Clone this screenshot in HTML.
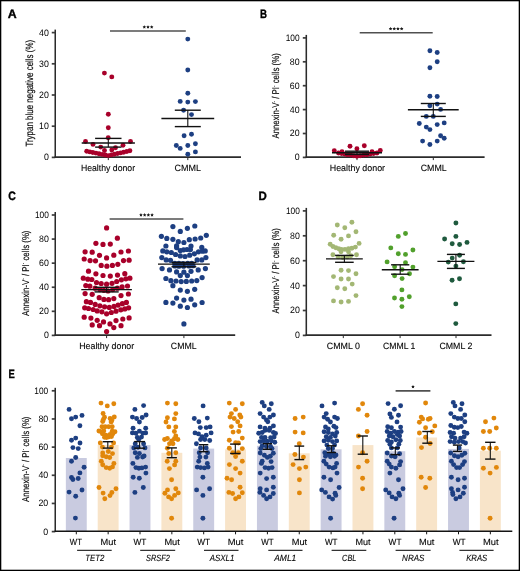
<!DOCTYPE html>
<html><head><meta charset="utf-8"><title>Figure</title>
<style>
html,body{margin:0;padding:0;background:#fff;}
body{width:520px;height:571px;overflow:hidden;}
svg{display:block;font-family:"Liberation Sans",sans-serif;will-change:transform;text-rendering:geometricPrecision;}
</style></head>
<body>
<svg width="520" height="571" viewBox="0 0 520 571">
<rect x="0.5" y="0.5" width="519" height="570" fill="#fff" stroke="#000" stroke-width="1.6"/>
<text x="7.80" y="17.70" font-size="12.2" textLength="8.9" lengthAdjust="spacingAndGlyphs" font-weight="bold" fill="#000" stroke="#000" stroke-width="0.35">A</text>
<text x="260.00" y="17.80" font-size="12.2" textLength="7.0" lengthAdjust="spacingAndGlyphs" font-weight="bold" fill="#000" stroke="#000" stroke-width="0.35">B</text>
<text x="8.20" y="199.80" font-size="12.2" textLength="7.6" lengthAdjust="spacingAndGlyphs" font-weight="bold" fill="#000" stroke="#000" stroke-width="0.35">C</text>
<text x="258.50" y="199.60" font-size="12.2" textLength="8.3" lengthAdjust="spacingAndGlyphs" font-weight="bold" fill="#000" stroke="#000" stroke-width="0.35">D</text>
<text x="8.50" y="377.60" font-size="12.2" textLength="6.3" lengthAdjust="spacingAndGlyphs" font-weight="bold" fill="#000" stroke="#000" stroke-width="0.35">E</text>
<line x1="55.25" y1="29.60" x2="55.25" y2="157.70" stroke="#2b2b2b" stroke-width="1.55" stroke-linecap="butt"/>
<line x1="51.75" y1="157.40" x2="55.25" y2="157.40" stroke="#3c3c3c" stroke-width="1.7" stroke-linecap="butt"/>
<text x="48.80" y="160.30" font-size="9.4" text-anchor="end" textLength="4.9" lengthAdjust="spacingAndGlyphs" >0</text>
<line x1="51.75" y1="126.20" x2="55.25" y2="126.20" stroke="#3c3c3c" stroke-width="1.7" stroke-linecap="butt"/>
<text x="48.80" y="129.10" font-size="9.4" text-anchor="end" textLength="9.8" lengthAdjust="spacingAndGlyphs" >10</text>
<line x1="51.75" y1="95.00" x2="55.25" y2="95.00" stroke="#3c3c3c" stroke-width="1.7" stroke-linecap="butt"/>
<text x="48.80" y="97.90" font-size="9.4" text-anchor="end" textLength="9.8" lengthAdjust="spacingAndGlyphs" >20</text>
<line x1="51.75" y1="63.80" x2="55.25" y2="63.80" stroke="#3c3c3c" stroke-width="1.7" stroke-linecap="butt"/>
<text x="48.80" y="66.70" font-size="9.4" text-anchor="end" textLength="9.8" lengthAdjust="spacingAndGlyphs" >30</text>
<line x1="51.75" y1="32.60" x2="55.25" y2="32.60" stroke="#3c3c3c" stroke-width="1.7" stroke-linecap="butt"/>
<text x="48.80" y="35.50" font-size="9.4" text-anchor="end" textLength="9.8" lengthAdjust="spacingAndGlyphs" >40</text>
<line x1="54.55" y1="157.10" x2="241.00" y2="157.10" stroke="#2b2b2b" stroke-width="1.6" stroke-linecap="butt"/>
<line x1="108.30" y1="157.10" x2="108.30" y2="160.10" stroke="#2b2b2b" stroke-width="1.0" stroke-linecap="butt"/>
<line x1="187.80" y1="157.10" x2="187.80" y2="160.10" stroke="#2b2b2b" stroke-width="1.0" stroke-linecap="butt"/>
<text x="33.00" y="146.60" font-size="10.5" textLength="106.8" lengthAdjust="spacingAndGlyphs" transform="rotate(-90 33.00 146.60)" stroke="#1a1a1a" stroke-width="0.18">Trypan blue negative cells (%)</text>
<text x="108.00" y="171.00" font-size="9.1" text-anchor="middle" textLength="54.2" lengthAdjust="spacingAndGlyphs" stroke="#1a1a1a" stroke-width="0.12">Healthy donor</text>
<text x="187.80" y="171.00" font-size="9.1" text-anchor="middle" textLength="26.5" lengthAdjust="spacingAndGlyphs" stroke="#1a1a1a" stroke-width="0.12">CMML</text>
<line x1="110.00" y1="30.90" x2="185.80" y2="30.90" stroke="#505050" stroke-width="1.5" stroke-linecap="butt"/>
<polygon points="144.30,25.20 144.86,26.28 146.06,26.48 145.20,27.34 145.39,28.55 144.30,28.00 143.21,28.55 143.40,27.34 142.54,26.48 143.74,26.28" fill="#1a1a1a"/>
<polygon points="148.00,25.20 148.56,26.28 149.76,26.48 148.90,27.34 149.09,28.55 148.00,28.00 146.91,28.55 147.10,27.34 146.24,26.48 147.44,26.28" fill="#1a1a1a"/>
<polygon points="151.70,25.20 152.26,26.28 153.46,26.48 152.60,27.34 152.79,28.55 151.70,28.00 150.61,28.55 150.80,27.34 149.94,26.48 151.14,26.28" fill="#1a1a1a"/>
<g fill="#a8002a"><circle cx="104.4" cy="73.1" r="2.45"/><circle cx="111.8" cy="76.9" r="2.45"/><circle cx="108.3" cy="114.2" r="2.45"/><circle cx="108.3" cy="127.7" r="2.45"/><circle cx="108.2" cy="137.8" r="2.45"/><circle cx="85.5" cy="141.5" r="2.45"/><circle cx="130.5" cy="141.5" r="2.45"/><circle cx="93.0" cy="144.4" r="2.45"/><circle cx="123.0" cy="145.3" r="2.45"/><circle cx="100.7" cy="147.1" r="2.45"/><circle cx="115.5" cy="147.7" r="2.45"/><circle cx="104.5" cy="150.5" r="2.45"/><circle cx="111.8" cy="150.0" r="2.45"/><circle cx="86.7" cy="151.3" r="2.45"/><circle cx="89.8" cy="151.9" r="2.45"/><circle cx="92.8" cy="152.5" r="2.45"/><circle cx="95.9" cy="153.1" r="2.45"/><circle cx="99.0" cy="153.8" r="2.45"/><circle cx="102.1" cy="154.4" r="2.45"/><circle cx="105.1" cy="155.0" r="2.45"/><circle cx="108.2" cy="155.6" r="2.45"/><circle cx="111.3" cy="154.9" r="2.45"/><circle cx="114.4" cy="154.2" r="2.45"/><circle cx="117.5" cy="153.5" r="2.45"/><circle cx="120.6" cy="152.9" r="2.45"/><circle cx="123.7" cy="152.2" r="2.45"/><circle cx="126.8" cy="151.5" r="2.45"/><circle cx="129.9" cy="150.8" r="2.45"/></g>
<line x1="81.70" y1="143.00" x2="134.90" y2="143.00" stroke="#111" stroke-width="1.4" stroke-linecap="butt"/>
<line x1="95.10" y1="138.40" x2="121.50" y2="138.40" stroke="#111" stroke-width="1.4" stroke-linecap="butt"/>
<line x1="95.10" y1="147.10" x2="121.50" y2="147.10" stroke="#111" stroke-width="1.4" stroke-linecap="butt"/>
<line x1="108.30" y1="138.40" x2="108.30" y2="147.10" stroke="#111" stroke-width="1.1" stroke-linecap="butt"/>
<g fill="#1d3f82"><circle cx="187.8" cy="39.1" r="2.45"/><circle cx="187.8" cy="70.0" r="2.45"/><circle cx="187.8" cy="93.3" r="2.45"/><circle cx="180.2" cy="101.4" r="2.45"/><circle cx="187.8" cy="102.1" r="2.45"/><circle cx="195.4" cy="101.6" r="2.45"/><circle cx="183.6" cy="110.2" r="2.45"/><circle cx="191.5" cy="114.6" r="2.45"/><circle cx="184.1" cy="135.7" r="2.45"/><circle cx="191.5" cy="134.2" r="2.45"/><circle cx="176.3" cy="145.5" r="2.45"/><circle cx="180.2" cy="148.4" r="2.45"/><circle cx="187.8" cy="145.5" r="2.45"/><circle cx="195.4" cy="143.8" r="2.45"/><circle cx="195.4" cy="151.9" r="2.45"/><circle cx="187.8" cy="154.3" r="2.45"/></g>
<line x1="161.40" y1="118.50" x2="214.20" y2="118.50" stroke="#111" stroke-width="1.4" stroke-linecap="butt"/>
<line x1="174.80" y1="110.20" x2="200.80" y2="110.20" stroke="#111" stroke-width="1.4" stroke-linecap="butt"/>
<line x1="174.80" y1="126.60" x2="200.80" y2="126.60" stroke="#111" stroke-width="1.4" stroke-linecap="butt"/>
<line x1="187.80" y1="110.20" x2="187.80" y2="126.60" stroke="#111" stroke-width="1.1" stroke-linecap="butt"/>
<line x1="306.30" y1="34.90" x2="306.30" y2="157.70" stroke="#2b2b2b" stroke-width="1.55" stroke-linecap="butt"/>
<line x1="302.80" y1="157.40" x2="306.30" y2="157.40" stroke="#3c3c3c" stroke-width="1.7" stroke-linecap="butt"/>
<text x="299.60" y="160.30" font-size="9.4" text-anchor="end" textLength="4.9" lengthAdjust="spacingAndGlyphs" >0</text>
<line x1="302.80" y1="133.50" x2="306.30" y2="133.50" stroke="#3c3c3c" stroke-width="1.7" stroke-linecap="butt"/>
<text x="299.60" y="136.40" font-size="9.4" text-anchor="end" textLength="9.8" lengthAdjust="spacingAndGlyphs" >20</text>
<line x1="302.80" y1="109.60" x2="306.30" y2="109.60" stroke="#3c3c3c" stroke-width="1.7" stroke-linecap="butt"/>
<text x="299.60" y="112.50" font-size="9.4" text-anchor="end" textLength="9.8" lengthAdjust="spacingAndGlyphs" >40</text>
<line x1="302.80" y1="85.70" x2="306.30" y2="85.70" stroke="#3c3c3c" stroke-width="1.7" stroke-linecap="butt"/>
<text x="299.60" y="88.60" font-size="9.4" text-anchor="end" textLength="9.8" lengthAdjust="spacingAndGlyphs" >60</text>
<line x1="302.80" y1="61.80" x2="306.30" y2="61.80" stroke="#3c3c3c" stroke-width="1.7" stroke-linecap="butt"/>
<text x="299.60" y="64.70" font-size="9.4" text-anchor="end" textLength="9.8" lengthAdjust="spacingAndGlyphs" >80</text>
<line x1="302.80" y1="37.90" x2="306.30" y2="37.90" stroke="#3c3c3c" stroke-width="1.7" stroke-linecap="butt"/>
<text x="299.60" y="40.80" font-size="9.4" text-anchor="end" textLength="13.9" lengthAdjust="spacingAndGlyphs" >100</text>
<line x1="305.60" y1="157.10" x2="484.60" y2="157.10" stroke="#2b2b2b" stroke-width="1.6" stroke-linecap="butt"/>
<line x1="357.00" y1="157.10" x2="357.00" y2="160.10" stroke="#2b2b2b" stroke-width="1.0" stroke-linecap="butt"/>
<line x1="433.30" y1="157.10" x2="433.30" y2="160.10" stroke="#2b2b2b" stroke-width="1.0" stroke-linecap="butt"/>
<text x="279.20" y="138.60" font-size="9.9" textLength="85.4" lengthAdjust="spacingAndGlyphs" transform="rotate(-90 279.20 138.60)" stroke="#1a1a1a" stroke-width="0.18">Annexin-V<tspan font-size='5.5' dy='-3.2'>-</tspan><tspan dy='3.2'> / PI</tspan><tspan font-size='5.5' dy='-3.2'>-</tspan><tspan dy='3.2'> cells (%)</tspan></text>
<text x="357.40" y="170.90" font-size="9.1" text-anchor="middle" textLength="55.3" lengthAdjust="spacingAndGlyphs" stroke="#1a1a1a" stroke-width="0.12">Healthy donor</text>
<text x="433.70" y="170.90" font-size="9.1" text-anchor="middle" textLength="26.0" lengthAdjust="spacingAndGlyphs" stroke="#1a1a1a" stroke-width="0.12">CMML</text>
<line x1="359.70" y1="32.70" x2="432.70" y2="32.70" stroke="#505050" stroke-width="1.5" stroke-linecap="butt"/>
<polygon points="390.55,27.00 391.11,28.08 392.31,28.28 391.45,29.14 391.64,30.35 390.55,29.80 389.46,30.35 389.65,29.14 388.79,28.28 389.99,28.08" fill="#1a1a1a"/>
<polygon points="394.25,27.00 394.81,28.08 396.01,28.28 395.15,29.14 395.34,30.35 394.25,29.80 393.16,30.35 393.35,29.14 392.49,28.28 393.69,28.08" fill="#1a1a1a"/>
<polygon points="397.95,27.00 398.51,28.08 399.71,28.28 398.85,29.14 399.04,30.35 397.95,29.80 396.86,30.35 397.05,29.14 396.19,28.28 397.39,28.08" fill="#1a1a1a"/>
<polygon points="401.65,27.00 402.21,28.08 403.41,28.28 402.55,29.14 402.74,30.35 401.65,29.80 400.56,30.35 400.75,29.14 399.89,28.28 401.09,28.08" fill="#1a1a1a"/>
<g fill="#a8002a"><circle cx="350.0" cy="146.2" r="2.45"/><circle cx="356.9" cy="148.8" r="2.45"/><circle cx="364.3" cy="145.8" r="2.45"/><circle cx="334.3" cy="150.8" r="2.45"/><circle cx="380.3" cy="150.5" r="2.45"/><circle cx="338.5" cy="153.0" r="2.45"/><circle cx="341.6" cy="153.5" r="2.45"/><circle cx="344.6" cy="154.1" r="2.45"/><circle cx="347.7" cy="154.6" r="2.45"/><circle cx="350.8" cy="155.1" r="2.45"/><circle cx="353.8" cy="155.7" r="2.45"/><circle cx="356.9" cy="156.2" r="2.45"/><circle cx="360.2" cy="155.7" r="2.45"/><circle cx="363.6" cy="155.1" r="2.45"/><circle cx="366.9" cy="154.6" r="2.45"/><circle cx="370.3" cy="154.1" r="2.45"/><circle cx="373.6" cy="153.5" r="2.45"/><circle cx="377.0" cy="153.0" r="2.45"/><circle cx="342.0" cy="151.8" r="2.45"/><circle cx="372.0" cy="151.8" r="2.45"/><circle cx="347.0" cy="154.6" r="2.45"/><circle cx="367.0" cy="154.6" r="2.45"/></g>
<line x1="332.00" y1="152.80" x2="382.00" y2="152.80" stroke="#111" stroke-width="1.4" stroke-linecap="butt"/>
<line x1="345.00" y1="151.20" x2="369.00" y2="151.20" stroke="#111" stroke-width="1.4" stroke-linecap="butt"/>
<line x1="345.00" y1="154.40" x2="369.00" y2="154.40" stroke="#111" stroke-width="1.4" stroke-linecap="butt"/>
<line x1="357.00" y1="151.20" x2="357.00" y2="154.40" stroke="#111" stroke-width="1.1" stroke-linecap="butt"/>
<g fill="#1d3f82"><circle cx="429.9" cy="50.8" r="2.45"/><circle cx="437.2" cy="52.5" r="2.45"/><circle cx="437.2" cy="61.8" r="2.45"/><circle cx="429.9" cy="67.7" r="2.45"/><circle cx="429.9" cy="96.3" r="2.45"/><circle cx="437.2" cy="96.5" r="2.45"/><circle cx="429.9" cy="105.8" r="2.45"/><circle cx="437.2" cy="104.1" r="2.45"/><circle cx="440.6" cy="109.4" r="2.45"/><circle cx="426.3" cy="116.4" r="2.45"/><circle cx="433.3" cy="116.4" r="2.45"/><circle cx="419.3" cy="123.5" r="2.45"/><circle cx="444.2" cy="122.9" r="2.45"/><circle cx="426.3" cy="127.1" r="2.45"/><circle cx="429.9" cy="129.6" r="2.45"/><circle cx="437.2" cy="124.6" r="2.45"/><circle cx="440.6" cy="135.8" r="2.45"/><circle cx="444.2" cy="138.3" r="2.45"/><circle cx="422.6" cy="141.1" r="2.45"/><circle cx="437.2" cy="141.1" r="2.45"/><circle cx="429.9" cy="144.5" r="2.45"/></g>
<line x1="407.90" y1="109.70" x2="458.70" y2="109.70" stroke="#111" stroke-width="1.4" stroke-linecap="butt"/>
<line x1="420.80" y1="103.50" x2="445.80" y2="103.50" stroke="#111" stroke-width="1.4" stroke-linecap="butt"/>
<line x1="420.80" y1="116.40" x2="445.80" y2="116.40" stroke="#111" stroke-width="1.4" stroke-linecap="butt"/>
<line x1="433.30" y1="103.50" x2="433.30" y2="116.40" stroke="#111" stroke-width="1.1" stroke-linecap="butt"/>
<line x1="55.25" y1="212.00" x2="55.25" y2="335.70" stroke="#2b2b2b" stroke-width="1.55" stroke-linecap="butt"/>
<line x1="51.75" y1="335.40" x2="55.25" y2="335.40" stroke="#3c3c3c" stroke-width="1.7" stroke-linecap="butt"/>
<text x="48.80" y="338.30" font-size="9.4" text-anchor="end" textLength="4.9" lengthAdjust="spacingAndGlyphs" >0</text>
<line x1="51.75" y1="311.32" x2="55.25" y2="311.32" stroke="#3c3c3c" stroke-width="1.7" stroke-linecap="butt"/>
<text x="48.80" y="314.22" font-size="9.4" text-anchor="end" textLength="9.8" lengthAdjust="spacingAndGlyphs" >20</text>
<line x1="51.75" y1="287.24" x2="55.25" y2="287.24" stroke="#3c3c3c" stroke-width="1.7" stroke-linecap="butt"/>
<text x="48.80" y="290.14" font-size="9.4" text-anchor="end" textLength="9.8" lengthAdjust="spacingAndGlyphs" >40</text>
<line x1="51.75" y1="263.16" x2="55.25" y2="263.16" stroke="#3c3c3c" stroke-width="1.7" stroke-linecap="butt"/>
<text x="48.80" y="266.06" font-size="9.4" text-anchor="end" textLength="9.8" lengthAdjust="spacingAndGlyphs" >60</text>
<line x1="51.75" y1="239.08" x2="55.25" y2="239.08" stroke="#3c3c3c" stroke-width="1.7" stroke-linecap="butt"/>
<text x="48.80" y="241.98" font-size="9.4" text-anchor="end" textLength="9.8" lengthAdjust="spacingAndGlyphs" >80</text>
<line x1="51.75" y1="215.00" x2="55.25" y2="215.00" stroke="#3c3c3c" stroke-width="1.7" stroke-linecap="butt"/>
<text x="48.80" y="217.90" font-size="9.4" text-anchor="end" textLength="13.9" lengthAdjust="spacingAndGlyphs" >100</text>
<line x1="54.55" y1="335.10" x2="235.20" y2="335.10" stroke="#2b2b2b" stroke-width="1.6" stroke-linecap="butt"/>
<line x1="106.60" y1="335.10" x2="106.60" y2="338.10" stroke="#2b2b2b" stroke-width="1.0" stroke-linecap="butt"/>
<line x1="183.90" y1="335.10" x2="183.90" y2="338.10" stroke="#2b2b2b" stroke-width="1.0" stroke-linecap="butt"/>
<text x="28.60" y="315.90" font-size="9.9" textLength="85.4" lengthAdjust="spacingAndGlyphs" transform="rotate(-90 28.60 315.90)" stroke="#1a1a1a" stroke-width="0.18">Annexin-V<tspan font-size='5.5' dy='-3.2'>-</tspan><tspan dy='3.2'> / PI</tspan><tspan font-size='5.5' dy='-3.2'>-</tspan><tspan dy='3.2'> cells (%)</tspan></text>
<text x="106.70" y="348.90" font-size="9.1" text-anchor="middle" textLength="55.0" lengthAdjust="spacingAndGlyphs" stroke="#1a1a1a" stroke-width="0.12">Healthy donor</text>
<text x="183.70" y="348.90" font-size="9.1" text-anchor="middle" textLength="25.7" lengthAdjust="spacingAndGlyphs" stroke="#1a1a1a" stroke-width="0.12">CMML</text>
<line x1="109.60" y1="218.90" x2="183.40" y2="218.90" stroke="#505050" stroke-width="1.5" stroke-linecap="butt"/>
<polygon points="140.95,213.10 141.51,214.18 142.71,214.38 141.85,215.24 142.04,216.45 140.95,215.90 139.86,216.45 140.05,215.24 139.19,214.38 140.39,214.18" fill="#1a1a1a"/>
<polygon points="144.65,213.10 145.21,214.18 146.41,214.38 145.55,215.24 145.74,216.45 144.65,215.90 143.56,216.45 143.75,215.24 142.89,214.38 144.09,214.18" fill="#1a1a1a"/>
<polygon points="148.35,213.10 148.91,214.18 150.11,214.38 149.25,215.24 149.44,216.45 148.35,215.90 147.26,216.45 147.45,215.24 146.59,214.38 147.79,214.18" fill="#1a1a1a"/>
<polygon points="152.05,213.10 152.61,214.18 153.81,214.38 152.95,215.24 153.14,216.45 152.05,215.90 150.96,216.45 151.15,215.24 150.29,214.38 151.49,214.18" fill="#1a1a1a"/>
<g fill="#a8002a"><circle cx="106.6" cy="227.9" r="2.6"/><circle cx="117.4" cy="238.2" r="2.6"/><circle cx="95.9" cy="243.3" r="2.6"/><circle cx="103.0" cy="244.4" r="2.6"/><circle cx="110.3" cy="244.1" r="2.6"/><circle cx="85.1" cy="251.8" r="2.6"/><circle cx="92.2" cy="252.2" r="2.6"/><circle cx="99.5" cy="255.3" r="2.6"/><circle cx="106.6" cy="257.9" r="2.6"/><circle cx="113.8" cy="255.2" r="2.6"/><circle cx="121.0" cy="252.0" r="2.6"/><circle cx="128.4" cy="251.0" r="2.6"/><circle cx="84.2" cy="259.0" r="2.6"/><circle cx="90.1" cy="260.6" r="2.6"/><circle cx="95.5" cy="260.8" r="2.6"/><circle cx="101.2" cy="265.4" r="2.6"/><circle cx="106.9" cy="266.2" r="2.6"/><circle cx="112.4" cy="265.4" r="2.6"/><circle cx="117.8" cy="264.3" r="2.6"/><circle cx="123.5" cy="260.6" r="2.6"/><circle cx="129.1" cy="260.2" r="2.6"/><circle cx="88.5" cy="271.2" r="2.6"/><circle cx="95.9" cy="273.8" r="2.6"/><circle cx="103.0" cy="275.5" r="2.6"/><circle cx="110.3" cy="276.1" r="2.6"/><circle cx="117.5" cy="275.1" r="2.6"/><circle cx="124.8" cy="273.7" r="2.6"/><circle cx="83.3" cy="278.2" r="2.6"/><circle cx="87.8" cy="279.2" r="2.6"/><circle cx="91.8" cy="279.5" r="2.6"/><circle cx="96.5" cy="282.5" r="2.6"/><circle cx="101.2" cy="283.5" r="2.6"/><circle cx="106.6" cy="284.2" r="2.6"/><circle cx="112.0" cy="283.3" r="2.6"/><circle cx="116.7" cy="281.5" r="2.6"/><circle cx="121.4" cy="279.8" r="2.6"/><circle cx="125.9" cy="278.8" r="2.6"/><circle cx="129.9" cy="278.2" r="2.6"/><circle cx="85.8" cy="285.6" r="2.6"/><circle cx="89.8" cy="286.2" r="2.6"/><circle cx="95.2" cy="288.2" r="2.6"/><circle cx="99.9" cy="289.6" r="2.6"/><circle cx="103.9" cy="290.3" r="2.6"/><circle cx="108.0" cy="290.9" r="2.6"/><circle cx="112.7" cy="289.6" r="2.6"/><circle cx="117.4" cy="288.2" r="2.6"/><circle cx="122.1" cy="286.9" r="2.6"/><circle cx="127.5" cy="286.0" r="2.6"/><circle cx="85.1" cy="293.6" r="2.6"/><circle cx="92.2" cy="294.3" r="2.6"/><circle cx="99.2" cy="297.7" r="2.6"/><circle cx="103.9" cy="299.4" r="2.6"/><circle cx="108.6" cy="299.7" r="2.6"/><circle cx="113.8" cy="298.6" r="2.6"/><circle cx="121.0" cy="295.6" r="2.6"/><circle cx="128.4" cy="294.0" r="2.6"/><circle cx="86.4" cy="301.7" r="2.6"/><circle cx="90.5" cy="302.4" r="2.6"/><circle cx="95.2" cy="304.4" r="2.6"/><circle cx="99.9" cy="305.8" r="2.6"/><circle cx="104.6" cy="306.8" r="2.6"/><circle cx="109.3" cy="307.4" r="2.6"/><circle cx="114.0" cy="306.4" r="2.6"/><circle cx="118.1" cy="305.1" r="2.6"/><circle cx="122.4" cy="303.7" r="2.6"/><circle cx="126.4" cy="302.4" r="2.6"/><circle cx="84.7" cy="307.8" r="2.6"/><circle cx="88.5" cy="308.5" r="2.6"/><circle cx="93.2" cy="309.5" r="2.6"/><circle cx="97.2" cy="310.9" r="2.6"/><circle cx="101.9" cy="311.8" r="2.6"/><circle cx="106.6" cy="313.8" r="2.6"/><circle cx="111.3" cy="312.5" r="2.6"/><circle cx="116.0" cy="311.2" r="2.6"/><circle cx="120.8" cy="309.8" r="2.6"/><circle cx="124.8" cy="308.9" r="2.6"/><circle cx="128.6" cy="307.8" r="2.6"/><circle cx="84.2" cy="317.2" r="2.6"/><circle cx="90.9" cy="318.1" r="2.6"/><circle cx="97.2" cy="320.3" r="2.6"/><circle cx="103.5" cy="321.9" r="2.6"/><circle cx="110.0" cy="323.9" r="2.6"/><circle cx="116.0" cy="320.6" r="2.6"/><circle cx="122.8" cy="319.0" r="2.6"/><circle cx="129.1" cy="317.9" r="2.6"/><circle cx="92.2" cy="324.9" r="2.6"/><circle cx="99.5" cy="325.7" r="2.6"/><circle cx="113.8" cy="327.6" r="2.6"/><circle cx="121.0" cy="325.7" r="2.6"/><circle cx="106.6" cy="331.6" r="2.6"/></g>
<line x1="81.30" y1="289.60" x2="131.90" y2="289.60" stroke="#111" stroke-width="1.4" stroke-linecap="butt"/>
<line x1="94.50" y1="287.30" x2="118.70" y2="287.30" stroke="#111" stroke-width="1.4" stroke-linecap="butt"/>
<line x1="94.50" y1="291.90" x2="118.70" y2="291.90" stroke="#111" stroke-width="1.4" stroke-linecap="butt"/>
<line x1="106.60" y1="287.30" x2="106.60" y2="291.90" stroke="#111" stroke-width="1.1" stroke-linecap="butt"/>
<g fill="#1d3f82"><circle cx="172.9" cy="226.6" r="2.6"/><circle cx="180.3" cy="231.4" r="2.6"/><circle cx="187.4" cy="228.3" r="2.6"/><circle cx="194.8" cy="226.0" r="2.6"/><circle cx="161.4" cy="236.3" r="2.6"/><circle cx="166.8" cy="238.4" r="2.6"/><circle cx="172.9" cy="239.3" r="2.6"/><circle cx="178.3" cy="241.7" r="2.6"/><circle cx="183.9" cy="242.5" r="2.6"/><circle cx="189.3" cy="239.7" r="2.6"/><circle cx="195.1" cy="239.0" r="2.6"/><circle cx="200.7" cy="238.0" r="2.6"/><circle cx="206.3" cy="235.3" r="2.6"/><circle cx="165.9" cy="246.0" r="2.6"/><circle cx="176.6" cy="245.8" r="2.6"/><circle cx="176.6" cy="247.6" r="2.6"/><circle cx="191.0" cy="246.0" r="2.6"/><circle cx="201.8" cy="247.4" r="2.6"/><circle cx="162.8" cy="250.9" r="2.6"/><circle cx="166.8" cy="251.8" r="2.6"/><circle cx="171.3" cy="252.5" r="2.6"/><circle cx="175.6" cy="254.5" r="2.6"/><circle cx="180.3" cy="255.9" r="2.6"/><circle cx="185.0" cy="256.5" r="2.6"/><circle cx="189.7" cy="255.2" r="2.6"/><circle cx="194.4" cy="253.8" r="2.6"/><circle cx="198.5" cy="251.8" r="2.6"/><circle cx="202.5" cy="251.2" r="2.6"/><circle cx="205.2" cy="250.9" r="2.6"/><circle cx="180.3" cy="250.5" r="2.6"/><circle cx="183.6" cy="249.8" r="2.6"/><circle cx="187.0" cy="249.5" r="2.6"/><circle cx="190.4" cy="249.5" r="2.6"/><circle cx="161.8" cy="257.6" r="2.6"/><circle cx="166.2" cy="259.9" r="2.6"/><circle cx="170.5" cy="260.3" r="2.6"/><circle cx="197.1" cy="259.9" r="2.6"/><circle cx="201.8" cy="259.9" r="2.6"/><circle cx="205.9" cy="257.6" r="2.6"/><circle cx="174.9" cy="263.3" r="2.6"/><circle cx="178.9" cy="263.3" r="2.6"/><circle cx="183.0" cy="263.5" r="2.6"/><circle cx="187.7" cy="263.3" r="2.6"/><circle cx="191.7" cy="263.3" r="2.6"/><circle cx="174.9" cy="266.0" r="2.6"/><circle cx="178.9" cy="266.2" r="2.6"/><circle cx="183.6" cy="266.2" r="2.6"/><circle cx="189.0" cy="266.0" r="2.6"/><circle cx="193.0" cy="265.7" r="2.6"/><circle cx="162.1" cy="268.6" r="2.6"/><circle cx="169.5" cy="269.9" r="2.6"/><circle cx="176.6" cy="271.9" r="2.6"/><circle cx="183.9" cy="272.2" r="2.6"/><circle cx="191.0" cy="271.3" r="2.6"/><circle cx="198.2" cy="269.9" r="2.6"/><circle cx="205.4" cy="268.6" r="2.6"/><circle cx="180.3" cy="275.6" r="2.6"/><circle cx="187.4" cy="275.6" r="2.6"/><circle cx="165.9" cy="278.5" r="2.6"/><circle cx="170.9" cy="280.7" r="2.6"/><circle cx="176.0" cy="281.0" r="2.6"/><circle cx="181.2" cy="281.6" r="2.6"/><circle cx="186.3" cy="281.4" r="2.6"/><circle cx="191.7" cy="281.0" r="2.6"/><circle cx="196.8" cy="280.6" r="2.6"/><circle cx="202.1" cy="277.6" r="2.6"/><circle cx="172.9" cy="285.7" r="2.6"/><circle cx="180.3" cy="290.1" r="2.6"/><circle cx="187.4" cy="291.3" r="2.6"/><circle cx="194.7" cy="289.3" r="2.6"/><circle cx="176.6" cy="298.1" r="2.6"/><circle cx="183.9" cy="300.1" r="2.6"/><circle cx="191.0" cy="299.2" r="2.6"/><circle cx="165.9" cy="302.4" r="2.6"/><circle cx="172.9" cy="303.1" r="2.6"/><circle cx="180.3" cy="306.2" r="2.6"/><circle cx="187.4" cy="307.5" r="2.6"/><circle cx="194.7" cy="304.8" r="2.6"/><circle cx="202.1" cy="302.5" r="2.6"/><circle cx="183.9" cy="323.9" r="2.6"/></g>
<line x1="158.00" y1="264.10" x2="209.80" y2="264.10" stroke="#111" stroke-width="1.4" stroke-linecap="butt"/>
<line x1="171.50" y1="262.40" x2="196.30" y2="262.40" stroke="#111" stroke-width="1.4" stroke-linecap="butt"/>
<line x1="171.50" y1="266.80" x2="196.30" y2="266.80" stroke="#111" stroke-width="1.4" stroke-linecap="butt"/>
<line x1="183.90" y1="262.40" x2="183.90" y2="266.80" stroke="#111" stroke-width="1.1" stroke-linecap="butt"/>
<line x1="306.30" y1="207.90" x2="306.30" y2="335.70" stroke="#2b2b2b" stroke-width="1.55" stroke-linecap="butt"/>
<line x1="302.80" y1="335.40" x2="306.30" y2="335.40" stroke="#3c3c3c" stroke-width="1.7" stroke-linecap="butt"/>
<text x="299.80" y="338.30" font-size="9.4" text-anchor="end" textLength="4.9" lengthAdjust="spacingAndGlyphs" >0</text>
<line x1="302.80" y1="310.50" x2="306.30" y2="310.50" stroke="#3c3c3c" stroke-width="1.7" stroke-linecap="butt"/>
<text x="299.80" y="313.40" font-size="9.4" text-anchor="end" textLength="9.8" lengthAdjust="spacingAndGlyphs" >20</text>
<line x1="302.80" y1="285.60" x2="306.30" y2="285.60" stroke="#3c3c3c" stroke-width="1.7" stroke-linecap="butt"/>
<text x="299.80" y="288.50" font-size="9.4" text-anchor="end" textLength="9.8" lengthAdjust="spacingAndGlyphs" >40</text>
<line x1="302.80" y1="260.70" x2="306.30" y2="260.70" stroke="#3c3c3c" stroke-width="1.7" stroke-linecap="butt"/>
<text x="299.80" y="263.60" font-size="9.4" text-anchor="end" textLength="9.8" lengthAdjust="spacingAndGlyphs" >60</text>
<line x1="302.80" y1="235.80" x2="306.30" y2="235.80" stroke="#3c3c3c" stroke-width="1.7" stroke-linecap="butt"/>
<text x="299.80" y="238.70" font-size="9.4" text-anchor="end" textLength="9.8" lengthAdjust="spacingAndGlyphs" >80</text>
<line x1="302.80" y1="210.90" x2="306.30" y2="210.90" stroke="#3c3c3c" stroke-width="1.7" stroke-linecap="butt"/>
<text x="299.80" y="213.80" font-size="9.4" text-anchor="end" textLength="13.9" lengthAdjust="spacingAndGlyphs" >100</text>
<line x1="305.60" y1="335.10" x2="491.50" y2="335.10" stroke="#2b2b2b" stroke-width="1.6" stroke-linecap="butt"/>
<line x1="343.30" y1="335.10" x2="343.30" y2="338.10" stroke="#2b2b2b" stroke-width="1.0" stroke-linecap="butt"/>
<line x1="400.10" y1="335.10" x2="400.10" y2="338.10" stroke="#2b2b2b" stroke-width="1.0" stroke-linecap="butt"/>
<line x1="456.00" y1="335.10" x2="456.00" y2="338.10" stroke="#2b2b2b" stroke-width="1.0" stroke-linecap="butt"/>
<text x="279.20" y="313.60" font-size="9.9" textLength="85.4" lengthAdjust="spacingAndGlyphs" transform="rotate(-90 279.20 313.60)" stroke="#1a1a1a" stroke-width="0.18">Annexin-V<tspan font-size='5.5' dy='-3.2'>-</tspan><tspan dy='3.2'> / PI</tspan><tspan font-size='5.5' dy='-3.2'>-</tspan><tspan dy='3.2'> cells (%)</tspan></text>
<text x="343.40" y="349.00" font-size="9.1" text-anchor="middle" textLength="33.2" lengthAdjust="spacingAndGlyphs" stroke="#1a1a1a" stroke-width="0.12">CMML 0</text>
<text x="399.20" y="349.00" font-size="9.1" text-anchor="middle" textLength="32.4" lengthAdjust="spacingAndGlyphs" stroke="#1a1a1a" stroke-width="0.12">CMML 1</text>
<text x="455.90" y="349.00" font-size="9.1" text-anchor="middle" textLength="32.9" lengthAdjust="spacingAndGlyphs" stroke="#1a1a1a" stroke-width="0.12">CMML 2</text>
<g fill="#a3b774"><circle cx="337.3" cy="225.0" r="2.45"/><circle cx="351.9" cy="222.3" r="2.45"/><circle cx="344.8" cy="227.7" r="2.45"/><circle cx="356.0" cy="231.8" r="2.45"/><circle cx="333.7" cy="235.2" r="2.45"/><circle cx="348.5" cy="235.9" r="2.45"/><circle cx="341.1" cy="239.2" r="2.45"/><circle cx="330.2" cy="244.2" r="2.45"/><circle cx="359.1" cy="243.4" r="2.45"/><circle cx="332.9" cy="246.5" r="2.45"/><circle cx="335.8" cy="247.7" r="2.45"/><circle cx="338.7" cy="248.8" r="2.45"/><circle cx="341.5" cy="249.4" r="2.45"/><circle cx="345.0" cy="249.4" r="2.45"/><circle cx="348.5" cy="248.8" r="2.45"/><circle cx="351.9" cy="248.3" r="2.45"/><circle cx="355.4" cy="247.1" r="2.45"/><circle cx="341.0" cy="251.7" r="2.45"/><circle cx="348.5" cy="251.7" r="2.45"/><circle cx="332.9" cy="254.8" r="2.45"/><circle cx="356.5" cy="254.8" r="2.45"/><circle cx="338.1" cy="256.9" r="2.45"/><circle cx="342.7" cy="257.5" r="2.45"/><circle cx="347.3" cy="256.9" r="2.45"/><circle cx="350.8" cy="255.8" r="2.45"/><circle cx="341.1" cy="270.2" r="2.45"/><circle cx="348.5" cy="270.6" r="2.45"/><circle cx="356.0" cy="273.7" r="2.45"/><circle cx="333.5" cy="276.6" r="2.45"/><circle cx="341.1" cy="279.0" r="2.45"/><circle cx="348.5" cy="279.0" r="2.45"/><circle cx="352.2" cy="284.1" r="2.45"/><circle cx="337.3" cy="287.7" r="2.45"/><circle cx="344.8" cy="288.8" r="2.45"/><circle cx="356.0" cy="295.6" r="2.45"/><circle cx="333.5" cy="300.9" r="2.45"/><circle cx="341.1" cy="302.0" r="2.45"/><circle cx="348.5" cy="301.4" r="2.45"/></g>
<line x1="326.00" y1="258.90" x2="362.80" y2="258.90" stroke="#111" stroke-width="1.4" stroke-linecap="butt"/>
<line x1="335.10" y1="255.40" x2="353.70" y2="255.40" stroke="#111" stroke-width="1.4" stroke-linecap="butt"/>
<line x1="335.10" y1="262.30" x2="353.70" y2="262.30" stroke="#111" stroke-width="1.4" stroke-linecap="butt"/>
<line x1="344.40" y1="255.40" x2="344.40" y2="262.30" stroke="#111" stroke-width="1.1" stroke-linecap="butt"/>
<g fill="#51a02c"><circle cx="398.3" cy="236.4" r="2.45"/><circle cx="405.5" cy="233.5" r="2.45"/><circle cx="390.8" cy="247.9" r="2.45"/><circle cx="412.9" cy="250.0" r="2.45"/><circle cx="398.3" cy="253.7" r="2.45"/><circle cx="405.5" cy="254.4" r="2.45"/><circle cx="387.1" cy="261.9" r="2.45"/><circle cx="405.5" cy="262.7" r="2.45"/><circle cx="394.6" cy="266.7" r="2.45"/><circle cx="412.9" cy="267.1" r="2.45"/><circle cx="402.1" cy="269.6" r="2.45"/><circle cx="409.5" cy="273.7" r="2.45"/><circle cx="394.6" cy="275.7" r="2.45"/><circle cx="402.1" cy="278.6" r="2.45"/><circle cx="401.9" cy="289.9" r="2.45"/><circle cx="394.5" cy="298.0" r="2.45"/><circle cx="401.9" cy="299.2" r="2.45"/><circle cx="409.3" cy="296.7" r="2.45"/><circle cx="401.9" cy="306.6" r="2.45"/></g>
<line x1="381.80" y1="269.80" x2="418.60" y2="269.80" stroke="#111" stroke-width="1.4" stroke-linecap="butt"/>
<line x1="391.10" y1="264.80" x2="409.30" y2="264.80" stroke="#111" stroke-width="1.4" stroke-linecap="butt"/>
<line x1="391.10" y1="274.20" x2="409.30" y2="274.20" stroke="#111" stroke-width="1.4" stroke-linecap="butt"/>
<line x1="400.20" y1="264.80" x2="400.20" y2="274.20" stroke="#111" stroke-width="1.1" stroke-linecap="butt"/>
<g fill="#1f5a3e"><circle cx="455.9" cy="223.0" r="2.45"/><circle cx="444.6" cy="239.0" r="2.45"/><circle cx="455.9" cy="236.4" r="2.45"/><circle cx="452.2" cy="243.7" r="2.45"/><circle cx="459.6" cy="244.5" r="2.45"/><circle cx="467.0" cy="242.4" r="2.45"/><circle cx="459.6" cy="255.3" r="2.45"/><circle cx="452.2" cy="258.1" r="2.45"/><circle cx="448.3" cy="262.1" r="2.45"/><circle cx="463.4" cy="261.7" r="2.45"/><circle cx="455.9" cy="266.1" r="2.45"/><circle cx="452.1" cy="280.2" r="2.45"/><circle cx="459.5" cy="278.7" r="2.45"/><circle cx="455.8" cy="303.9" r="2.45"/><circle cx="455.8" cy="323.6" r="2.45"/></g>
<line x1="437.40" y1="261.40" x2="474.40" y2="261.40" stroke="#111" stroke-width="1.4" stroke-linecap="butt"/>
<line x1="446.90" y1="254.40" x2="464.90" y2="254.40" stroke="#111" stroke-width="1.4" stroke-linecap="butt"/>
<line x1="446.90" y1="268.40" x2="464.90" y2="268.40" stroke="#111" stroke-width="1.4" stroke-linecap="butt"/>
<line x1="455.90" y1="254.40" x2="455.90" y2="268.40" stroke="#111" stroke-width="1.1" stroke-linecap="butt"/>
<rect x="65.85" y="458.00" width="20.9" height="73.30" fill="#c9cbe0"/>
<rect x="97.70" y="444.90" width="20.9" height="86.40" fill="#f8e4c9"/>
<rect x="129.55" y="445.10" width="20.9" height="86.20" fill="#c9cbe0"/>
<rect x="161.40" y="452.80" width="20.9" height="78.50" fill="#f8e4c9"/>
<rect x="193.25" y="448.60" width="20.9" height="82.70" fill="#c9cbe0"/>
<rect x="225.10" y="449.30" width="20.9" height="82.00" fill="#f8e4c9"/>
<rect x="256.95" y="445.80" width="20.9" height="85.50" fill="#c9cbe0"/>
<rect x="288.80" y="453.30" width="20.9" height="78.00" fill="#f8e4c9"/>
<rect x="320.65" y="449.30" width="20.9" height="82.00" fill="#c9cbe0"/>
<rect x="352.50" y="445.10" width="20.9" height="86.20" fill="#f8e4c9"/>
<rect x="384.35" y="451.20" width="20.9" height="80.10" fill="#c9cbe0"/>
<rect x="416.20" y="437.50" width="20.9" height="93.80" fill="#f8e4c9"/>
<rect x="448.05" y="448.90" width="20.9" height="82.40" fill="#c9cbe0"/>
<rect x="479.90" y="450.70" width="20.9" height="80.60" fill="#f8e4c9"/>
<line x1="55.25" y1="387.80" x2="55.25" y2="531.90" stroke="#2b2b2b" stroke-width="1.55" stroke-linecap="butt"/>
<line x1="51.75" y1="531.60" x2="55.25" y2="531.60" stroke="#3c3c3c" stroke-width="1.7" stroke-linecap="butt"/>
<text x="48.20" y="534.50" font-size="9.4" text-anchor="end" textLength="4.9" lengthAdjust="spacingAndGlyphs" >0</text>
<line x1="51.75" y1="503.44" x2="55.25" y2="503.44" stroke="#3c3c3c" stroke-width="1.7" stroke-linecap="butt"/>
<text x="48.20" y="506.34" font-size="9.4" text-anchor="end" textLength="9.8" lengthAdjust="spacingAndGlyphs" >20</text>
<line x1="51.75" y1="475.28" x2="55.25" y2="475.28" stroke="#3c3c3c" stroke-width="1.7" stroke-linecap="butt"/>
<text x="48.20" y="478.18" font-size="9.4" text-anchor="end" textLength="9.8" lengthAdjust="spacingAndGlyphs" >40</text>
<line x1="51.75" y1="447.12" x2="55.25" y2="447.12" stroke="#3c3c3c" stroke-width="1.7" stroke-linecap="butt"/>
<text x="48.20" y="450.02" font-size="9.4" text-anchor="end" textLength="9.8" lengthAdjust="spacingAndGlyphs" >60</text>
<line x1="51.75" y1="418.96" x2="55.25" y2="418.96" stroke="#3c3c3c" stroke-width="1.7" stroke-linecap="butt"/>
<text x="48.20" y="421.86" font-size="9.4" text-anchor="end" textLength="9.8" lengthAdjust="spacingAndGlyphs" >80</text>
<line x1="51.75" y1="390.80" x2="55.25" y2="390.80" stroke="#3c3c3c" stroke-width="1.7" stroke-linecap="butt"/>
<text x="48.20" y="393.70" font-size="9.4" text-anchor="end" textLength="13.9" lengthAdjust="spacingAndGlyphs" >100</text>
<line x1="54.55" y1="531.30" x2="512.30" y2="531.30" stroke="#141414" stroke-width="1.45" stroke-linecap="butt"/>
<line x1="76.30" y1="531.30" x2="76.30" y2="534.30" stroke="#141414" stroke-width="1.0" stroke-linecap="butt"/>
<line x1="108.15" y1="531.30" x2="108.15" y2="534.30" stroke="#141414" stroke-width="1.0" stroke-linecap="butt"/>
<line x1="140.00" y1="531.30" x2="140.00" y2="534.30" stroke="#141414" stroke-width="1.0" stroke-linecap="butt"/>
<line x1="171.85" y1="531.30" x2="171.85" y2="534.30" stroke="#141414" stroke-width="1.0" stroke-linecap="butt"/>
<line x1="203.70" y1="531.30" x2="203.70" y2="534.30" stroke="#141414" stroke-width="1.0" stroke-linecap="butt"/>
<line x1="235.55" y1="531.30" x2="235.55" y2="534.30" stroke="#141414" stroke-width="1.0" stroke-linecap="butt"/>
<line x1="267.40" y1="531.30" x2="267.40" y2="534.30" stroke="#141414" stroke-width="1.0" stroke-linecap="butt"/>
<line x1="299.25" y1="531.30" x2="299.25" y2="534.30" stroke="#141414" stroke-width="1.0" stroke-linecap="butt"/>
<line x1="331.10" y1="531.30" x2="331.10" y2="534.30" stroke="#141414" stroke-width="1.0" stroke-linecap="butt"/>
<line x1="362.95" y1="531.30" x2="362.95" y2="534.30" stroke="#141414" stroke-width="1.0" stroke-linecap="butt"/>
<line x1="394.80" y1="531.30" x2="394.80" y2="534.30" stroke="#141414" stroke-width="1.0" stroke-linecap="butt"/>
<line x1="426.65" y1="531.30" x2="426.65" y2="534.30" stroke="#141414" stroke-width="1.0" stroke-linecap="butt"/>
<line x1="458.50" y1="531.30" x2="458.50" y2="534.30" stroke="#141414" stroke-width="1.0" stroke-linecap="butt"/>
<line x1="490.35" y1="531.30" x2="490.35" y2="534.30" stroke="#141414" stroke-width="1.0" stroke-linecap="butt"/>
<text x="28.60" y="501.90" font-size="9.9" textLength="85.4" lengthAdjust="spacingAndGlyphs" transform="rotate(-90 28.60 501.90)" stroke="#1a1a1a" stroke-width="0.18">Annexin-V<tspan font-size='5.5' dy='-3.2'>-</tspan><tspan dy='3.2'> / PI</tspan><tspan font-size='5.5' dy='-3.2'>-</tspan><tspan dy='3.2'> cells (%)</tspan></text>
<g fill="#1d3f82"><circle cx="69.1" cy="409.4" r="2.45"/><circle cx="71.5" cy="418.8" r="2.45"/><circle cx="75.7" cy="417.1" r="2.45"/><circle cx="82.0" cy="415.4" r="2.45"/><circle cx="79.9" cy="425.7" r="2.45"/><circle cx="71.5" cy="440.2" r="2.45"/><circle cx="75.7" cy="438.1" r="2.45"/><circle cx="80.0" cy="443.0" r="2.45"/><circle cx="72.9" cy="447.6" r="2.45"/><circle cx="78.2" cy="448.6" r="2.45"/><circle cx="75.7" cy="457.5" r="2.45"/><circle cx="71.5" cy="461.3" r="2.45"/><circle cx="84.1" cy="467.3" r="2.45"/><circle cx="79.9" cy="472.9" r="2.45"/><circle cx="71.5" cy="477.4" r="2.45"/><circle cx="72.9" cy="479.5" r="2.45"/><circle cx="78.2" cy="478.5" r="2.45"/><circle cx="69.1" cy="492.1" r="2.45"/><circle cx="82.0" cy="490.0" r="2.45"/><circle cx="75.7" cy="496.3" r="2.45"/><circle cx="75.4" cy="518.1" r="2.45"/></g>
<g fill="#e1870b"><circle cx="101.0" cy="403.1" r="2.45"/><circle cx="107.3" cy="405.9" r="2.45"/><circle cx="113.8" cy="403.8" r="2.45"/><circle cx="103.1" cy="413.5" r="2.45"/><circle cx="104.5" cy="417.3" r="2.45"/><circle cx="103.4" cy="419.4" r="2.45"/><circle cx="102.7" cy="421.5" r="2.45"/><circle cx="110.1" cy="418.4" r="2.45"/><circle cx="114.3" cy="417.0" r="2.45"/><circle cx="111.8" cy="420.5" r="2.45"/><circle cx="111.1" cy="421.9" r="2.45"/><circle cx="102.0" cy="426.8" r="2.45"/><circle cx="105.2" cy="426.8" r="2.45"/><circle cx="108.7" cy="426.8" r="2.45"/><circle cx="112.2" cy="426.8" r="2.45"/><circle cx="98.9" cy="431.0" r="2.45"/><circle cx="101.3" cy="431.7" r="2.45"/><circle cx="103.8" cy="431.0" r="2.45"/><circle cx="112.2" cy="431.3" r="2.45"/><circle cx="115.0" cy="431.7" r="2.45"/><circle cx="102.4" cy="433.8" r="2.45"/><circle cx="105.9" cy="435.2" r="2.45"/><circle cx="110.1" cy="434.5" r="2.45"/><circle cx="112.9" cy="433.8" r="2.45"/><circle cx="104.5" cy="437.3" r="2.45"/><circle cx="108.7" cy="436.9" r="2.45"/><circle cx="111.5" cy="436.6" r="2.45"/><circle cx="106.6" cy="437.6" r="2.45"/><circle cx="100.3" cy="442.9" r="2.45"/><circle cx="113.6" cy="442.9" r="2.45"/><circle cx="102.4" cy="447.1" r="2.45"/><circle cx="111.5" cy="447.1" r="2.45"/><circle cx="102.7" cy="452.9" r="2.45"/><circle cx="108.3" cy="451.5" r="2.45"/><circle cx="112.5" cy="453.6" r="2.45"/><circle cx="102.7" cy="455.7" r="2.45"/><circle cx="106.2" cy="456.7" r="2.45"/><circle cx="109.7" cy="457.5" r="2.45"/><circle cx="101.3" cy="461.3" r="2.45"/><circle cx="113.9" cy="463.4" r="2.45"/><circle cx="102.7" cy="464.8" r="2.45"/><circle cx="106.2" cy="467.6" r="2.45"/><circle cx="109.7" cy="468.3" r="2.45"/><circle cx="112.5" cy="466.9" r="2.45"/><circle cx="99.0" cy="487.5" r="2.45"/><circle cx="116.0" cy="488.8" r="2.45"/><circle cx="103.1" cy="493.1" r="2.45"/><circle cx="111.9" cy="492.5" r="2.45"/><circle cx="110.0" cy="495.6" r="2.45"/><circle cx="104.8" cy="498.8" r="2.45"/></g>
<g fill="#1d3f82"><circle cx="143.6" cy="405.6" r="2.45"/><circle cx="134.9" cy="409.4" r="2.45"/><circle cx="132.4" cy="417.1" r="2.45"/><circle cx="136.6" cy="418.5" r="2.45"/><circle cx="142.2" cy="417.5" r="2.45"/><circle cx="146.1" cy="415.0" r="2.45"/><circle cx="139.4" cy="422.0" r="2.45"/><circle cx="133.1" cy="428.3" r="2.45"/><circle cx="145.7" cy="428.3" r="2.45"/><circle cx="132.4" cy="432.9" r="2.45"/><circle cx="135.9" cy="433.2" r="2.45"/><circle cx="139.4" cy="431.1" r="2.45"/><circle cx="142.9" cy="433.2" r="2.45"/><circle cx="145.7" cy="432.9" r="2.45"/><circle cx="137.3" cy="437.4" r="2.45"/><circle cx="141.5" cy="437.1" r="2.45"/><circle cx="138.7" cy="439.5" r="2.45"/><circle cx="135.2" cy="443.7" r="2.45"/><circle cx="143.6" cy="443.7" r="2.45"/><circle cx="133.8" cy="447.9" r="2.45"/><circle cx="138.0" cy="447.2" r="2.45"/><circle cx="145.0" cy="447.9" r="2.45"/><circle cx="135.2" cy="452.8" r="2.45"/><circle cx="139.4" cy="453.5" r="2.45"/><circle cx="137.4" cy="457.4" r="2.45"/><circle cx="142.6" cy="457.1" r="2.45"/><circle cx="144.1" cy="456.0" r="2.45"/><circle cx="132.9" cy="463.4" r="2.45"/><circle cx="135.9" cy="467.6" r="2.45"/><circle cx="138.9" cy="468.2" r="2.45"/><circle cx="141.9" cy="467.9" r="2.45"/><circle cx="145.6" cy="467.1" r="2.45"/><circle cx="145.9" cy="473.1" r="2.45"/><circle cx="133.2" cy="477.2" r="2.45"/><circle cx="139.3" cy="478.3" r="2.45"/><circle cx="143.3" cy="487.5" r="2.45"/><circle cx="134.9" cy="492.4" r="2.45"/></g>
<g fill="#e1870b"><circle cx="167.4" cy="403.1" r="2.45"/><circle cx="175.8" cy="403.8" r="2.45"/><circle cx="175.8" cy="413.6" r="2.45"/><circle cx="167.4" cy="417.8" r="2.45"/><circle cx="174.4" cy="418.9" r="2.45"/><circle cx="166.0" cy="422.0" r="2.45"/><circle cx="168.8" cy="426.9" r="2.45"/><circle cx="175.8" cy="426.9" r="2.45"/><circle cx="174.4" cy="431.5" r="2.45"/><circle cx="175.8" cy="436.0" r="2.45"/><circle cx="164.6" cy="439.5" r="2.45"/><circle cx="167.4" cy="438.5" r="2.45"/><circle cx="171.6" cy="440.9" r="2.45"/><circle cx="174.4" cy="438.8" r="2.45"/><circle cx="177.9" cy="439.5" r="2.45"/><circle cx="169.5" cy="443.7" r="2.45"/><circle cx="173.0" cy="443.7" r="2.45"/><circle cx="167.4" cy="448.3" r="2.45"/><circle cx="168.8" cy="453.5" r="2.45"/><circle cx="175.8" cy="452.8" r="2.45"/><circle cx="167.2" cy="461.2" r="2.45"/><circle cx="175.8" cy="461.2" r="2.45"/><circle cx="174.6" cy="464.9" r="2.45"/><circle cx="169.4" cy="468.6" r="2.45"/><circle cx="171.6" cy="479.8" r="2.45"/><circle cx="167.5" cy="489.9" r="2.45"/><circle cx="175.8" cy="488.7" r="2.45"/><circle cx="164.9" cy="493.2" r="2.45"/><circle cx="178.3" cy="492.9" r="2.45"/><circle cx="168.6" cy="496.9" r="2.45"/><circle cx="174.6" cy="495.4" r="2.45"/><circle cx="171.6" cy="498.8" r="2.45"/><circle cx="171.6" cy="518.2" r="2.45"/></g>
<g fill="#1d3f82"><circle cx="203.1" cy="405.9" r="2.45"/><circle cx="194.3" cy="418.5" r="2.45"/><circle cx="198.9" cy="421.7" r="2.45"/><circle cx="207.3" cy="418.1" r="2.45"/><circle cx="200.3" cy="427.6" r="2.45"/><circle cx="206.2" cy="427.6" r="2.45"/><circle cx="210.1" cy="426.9" r="2.45"/><circle cx="195.0" cy="432.9" r="2.45"/><circle cx="198.5" cy="433.9" r="2.45"/><circle cx="202.0" cy="436.7" r="2.45"/><circle cx="206.2" cy="435.3" r="2.45"/><circle cx="211.1" cy="432.9" r="2.45"/><circle cx="200.6" cy="439.5" r="2.45"/><circle cx="204.8" cy="439.5" r="2.45"/><circle cx="209.7" cy="440.5" r="2.45"/><circle cx="196.4" cy="443.7" r="2.45"/><circle cx="200.6" cy="447.9" r="2.45"/><circle cx="206.2" cy="447.9" r="2.45"/><circle cx="199.2" cy="452.8" r="2.45"/><circle cx="207.6" cy="452.8" r="2.45"/><circle cx="199.9" cy="457.1" r="2.45"/><circle cx="205.9" cy="457.1" r="2.45"/><circle cx="198.7" cy="461.2" r="2.45"/><circle cx="207.3" cy="463.4" r="2.45"/><circle cx="197.2" cy="467.1" r="2.45"/><circle cx="200.6" cy="467.6" r="2.45"/><circle cx="204.4" cy="467.9" r="2.45"/><circle cx="208.1" cy="467.1" r="2.45"/><circle cx="202.9" cy="477.2" r="2.45"/><circle cx="196.6" cy="489.9" r="2.45"/><circle cx="209.6" cy="488.7" r="2.45"/><circle cx="202.9" cy="495.4" r="2.45"/><circle cx="202.9" cy="518.2" r="2.45"/></g>
<g fill="#e1870b"><circle cx="229.3" cy="403.1" r="2.45"/><circle cx="242.3" cy="403.8" r="2.45"/><circle cx="235.6" cy="409.4" r="2.45"/><circle cx="231.4" cy="413.6" r="2.45"/><circle cx="239.8" cy="415.0" r="2.45"/><circle cx="230.0" cy="417.1" r="2.45"/><circle cx="234.2" cy="418.5" r="2.45"/><circle cx="240.9" cy="417.1" r="2.45"/><circle cx="237.7" cy="421.7" r="2.45"/><circle cx="231.4" cy="426.6" r="2.45"/><circle cx="240.1" cy="425.9" r="2.45"/><circle cx="233.1" cy="432.1" r="2.45"/><circle cx="238.7" cy="431.5" r="2.45"/><circle cx="229.3" cy="440.2" r="2.45"/><circle cx="242.3" cy="438.1" r="2.45"/><circle cx="235.6" cy="442.7" r="2.45"/><circle cx="238.4" cy="443.0" r="2.45"/><circle cx="229.3" cy="448.3" r="2.45"/><circle cx="242.3" cy="448.6" r="2.45"/><circle cx="232.8" cy="452.8" r="2.45"/><circle cx="238.4" cy="452.8" r="2.45"/><circle cx="235.6" cy="456.5" r="2.45"/><circle cx="242.3" cy="461.2" r="2.45"/><circle cx="229.4" cy="464.6" r="2.45"/><circle cx="235.6" cy="468.6" r="2.45"/><circle cx="240.1" cy="473.1" r="2.45"/><circle cx="227.0" cy="478.3" r="2.45"/><circle cx="231.6" cy="479.8" r="2.45"/><circle cx="240.1" cy="487.2" r="2.45"/><circle cx="228.9" cy="492.4" r="2.45"/><circle cx="232.6" cy="493.5" r="2.45"/><circle cx="242.3" cy="492.7" r="2.45"/><circle cx="238.9" cy="496.9" r="2.45"/><circle cx="235.6" cy="498.8" r="2.45"/></g>
<g fill="#1d3f82"><circle cx="262.2" cy="402.4" r="2.45"/><circle cx="264.3" cy="405.9" r="2.45"/><circle cx="271.3" cy="403.8" r="2.45"/><circle cx="269.2" cy="409.4" r="2.45"/><circle cx="260.1" cy="413.6" r="2.45"/><circle cx="263.6" cy="417.1" r="2.45"/><circle cx="266.4" cy="419.9" r="2.45"/><circle cx="269.9" cy="417.1" r="2.45"/><circle cx="273.4" cy="415.0" r="2.45"/><circle cx="267.8" cy="421.7" r="2.45"/><circle cx="260.1" cy="426.9" r="2.45"/><circle cx="265.0" cy="428.3" r="2.45"/><circle cx="269.9" cy="428.3" r="2.45"/><circle cx="273.4" cy="425.9" r="2.45"/><circle cx="258.7" cy="433.2" r="2.45"/><circle cx="262.2" cy="432.5" r="2.45"/><circle cx="265.0" cy="430.4" r="2.45"/><circle cx="269.2" cy="430.4" r="2.45"/><circle cx="273.4" cy="432.5" r="2.45"/><circle cx="275.5" cy="433.5" r="2.45"/><circle cx="261.5" cy="437.4" r="2.45"/><circle cx="265.0" cy="437.4" r="2.45"/><circle cx="270.6" cy="437.7" r="2.45"/><circle cx="274.1" cy="437.1" r="2.45"/><circle cx="260.1" cy="441.6" r="2.45"/><circle cx="263.6" cy="440.9" r="2.45"/><circle cx="267.1" cy="441.3" r="2.45"/><circle cx="271.3" cy="440.9" r="2.45"/><circle cx="274.8" cy="442.3" r="2.45"/><circle cx="262.2" cy="445.8" r="2.45"/><circle cx="266.4" cy="446.5" r="2.45"/><circle cx="270.6" cy="446.5" r="2.45"/><circle cx="260.8" cy="448.6" r="2.45"/><circle cx="272.0" cy="448.6" r="2.45"/><circle cx="260.2" cy="453.0" r="2.45"/><circle cx="264.4" cy="455.2" r="2.45"/><circle cx="267.4" cy="457.4" r="2.45"/><circle cx="270.3" cy="456.3" r="2.45"/><circle cx="273.3" cy="453.3" r="2.45"/><circle cx="262.2" cy="461.2" r="2.45"/><circle cx="261.4" cy="463.4" r="2.45"/><circle cx="271.1" cy="461.6" r="2.45"/><circle cx="265.1" cy="467.6" r="2.45"/><circle cx="268.6" cy="468.2" r="2.45"/><circle cx="272.1" cy="467.6" r="2.45"/><circle cx="260.2" cy="473.1" r="2.45"/><circle cx="266.6" cy="478.6" r="2.45"/><circle cx="273.3" cy="477.2" r="2.45"/><circle cx="260.2" cy="488.7" r="2.45"/><circle cx="266.6" cy="489.9" r="2.45"/><circle cx="273.3" cy="487.2" r="2.45"/><circle cx="259.9" cy="492.4" r="2.45"/><circle cx="273.3" cy="493.5" r="2.45"/><circle cx="263.6" cy="495.4" r="2.45"/><circle cx="270.0" cy="496.9" r="2.45"/><circle cx="266.6" cy="498.8" r="2.45"/></g>
<g fill="#e1870b"><circle cx="295.1" cy="418.5" r="2.45"/><circle cx="303.2" cy="417.1" r="2.45"/><circle cx="295.1" cy="432.1" r="2.45"/><circle cx="303.2" cy="432.9" r="2.45"/><circle cx="299.3" cy="443.7" r="2.45"/><circle cx="294.9" cy="454.5" r="2.45"/><circle cx="303.4" cy="457.1" r="2.45"/><circle cx="293.1" cy="464.6" r="2.45"/><circle cx="299.4" cy="468.6" r="2.45"/><circle cx="305.8" cy="467.1" r="2.45"/><circle cx="299.4" cy="479.8" r="2.45"/><circle cx="299.4" cy="492.9" r="2.45"/></g>
<g fill="#1d3f82"><circle cx="322.0" cy="405.9" r="2.45"/><circle cx="334.6" cy="403.1" r="2.45"/><circle cx="326.2" cy="413.6" r="2.45"/><circle cx="324.1" cy="417.1" r="2.45"/><circle cx="327.6" cy="419.2" r="2.45"/><circle cx="334.6" cy="417.1" r="2.45"/><circle cx="337.4" cy="418.5" r="2.45"/><circle cx="330.4" cy="422.0" r="2.45"/><circle cx="325.5" cy="426.9" r="2.45"/><circle cx="333.9" cy="426.2" r="2.45"/><circle cx="336.0" cy="427.6" r="2.45"/><circle cx="328.3" cy="429.0" r="2.45"/><circle cx="324.1" cy="431.8" r="2.45"/><circle cx="328.3" cy="432.5" r="2.45"/><circle cx="332.5" cy="433.9" r="2.45"/><circle cx="336.7" cy="432.5" r="2.45"/><circle cx="326.2" cy="436.7" r="2.45"/><circle cx="330.4" cy="437.4" r="2.45"/><circle cx="335.3" cy="436.0" r="2.45"/><circle cx="324.1" cy="440.9" r="2.45"/><circle cx="328.3" cy="440.2" r="2.45"/><circle cx="332.5" cy="441.6" r="2.45"/><circle cx="336.7" cy="440.9" r="2.45"/><circle cx="326.9" cy="445.1" r="2.45"/><circle cx="334.6" cy="445.1" r="2.45"/><circle cx="328.3" cy="448.6" r="2.45"/><circle cx="332.5" cy="448.6" r="2.45"/><circle cx="324.8" cy="452.8" r="2.45"/><circle cx="329.0" cy="454.2" r="2.45"/><circle cx="333.2" cy="453.5" r="2.45"/><circle cx="336.0" cy="454.9" r="2.45"/><circle cx="325.5" cy="456.3" r="2.45"/><circle cx="330.4" cy="456.8" r="2.45"/><circle cx="334.6" cy="456.3" r="2.45"/><circle cx="323.9" cy="461.2" r="2.45"/><circle cx="326.2" cy="464.1" r="2.45"/><circle cx="329.1" cy="467.1" r="2.45"/><circle cx="332.9" cy="467.9" r="2.45"/><circle cx="336.6" cy="463.4" r="2.45"/><circle cx="335.1" cy="467.1" r="2.45"/><circle cx="337.0" cy="473.1" r="2.45"/><circle cx="323.9" cy="477.2" r="2.45"/><circle cx="330.6" cy="479.8" r="2.45"/><circle cx="321.7" cy="489.9" r="2.45"/><circle cx="325.4" cy="492.4" r="2.45"/><circle cx="329.1" cy="496.9" r="2.45"/><circle cx="332.6" cy="499.1" r="2.45"/><circle cx="335.1" cy="493.2" r="2.45"/><circle cx="335.8" cy="495.4" r="2.45"/><circle cx="339.1" cy="487.5" r="2.45"/><circle cx="330.6" cy="518.2" r="2.45"/></g>
<g fill="#e1870b"><circle cx="362.6" cy="403.8" r="2.45"/><circle cx="358.4" cy="409.4" r="2.45"/><circle cx="367.1" cy="415.3" r="2.45"/><circle cx="367.1" cy="431.5" r="2.45"/><circle cx="358.4" cy="436.0" r="2.45"/><circle cx="362.6" cy="452.8" r="2.45"/><circle cx="367.1" cy="461.2" r="2.45"/><circle cx="358.5" cy="467.1" r="2.45"/><circle cx="362.6" cy="478.3" r="2.45"/><circle cx="362.6" cy="488.7" r="2.45"/></g>
<g fill="#1d3f82"><circle cx="388.1" cy="403.6" r="2.45"/><circle cx="400.6" cy="405.8" r="2.45"/><circle cx="394.4" cy="409.2" r="2.45"/><circle cx="389.9" cy="414.0" r="2.45"/><circle cx="391.4" cy="417.4" r="2.45"/><circle cx="398.5" cy="415.2" r="2.45"/><circle cx="397.0" cy="421.9" r="2.45"/><circle cx="387.7" cy="426.8" r="2.45"/><circle cx="391.4" cy="427.8" r="2.45"/><circle cx="400.6" cy="427.1" r="2.45"/><circle cx="387.2" cy="431.5" r="2.45"/><circle cx="390.6" cy="433.3" r="2.45"/><circle cx="394.4" cy="431.5" r="2.45"/><circle cx="398.1" cy="432.3" r="2.45"/><circle cx="401.1" cy="431.5" r="2.45"/><circle cx="389.2" cy="436.0" r="2.45"/><circle cx="392.9" cy="436.8" r="2.45"/><circle cx="397.3" cy="434.5" r="2.45"/><circle cx="399.6" cy="436.0" r="2.45"/><circle cx="387.7" cy="440.5" r="2.45"/><circle cx="391.4" cy="442.0" r="2.45"/><circle cx="395.9" cy="439.7" r="2.45"/><circle cx="400.3" cy="440.5" r="2.45"/><circle cx="389.9" cy="444.2" r="2.45"/><circle cx="398.8" cy="444.2" r="2.45"/><circle cx="391.4" cy="447.9" r="2.45"/><circle cx="397.3" cy="447.9" r="2.45"/><circle cx="387.2" cy="453.0" r="2.45"/><circle cx="391.4" cy="456.0" r="2.45"/><circle cx="395.1" cy="456.7" r="2.45"/><circle cx="399.6" cy="453.7" r="2.45"/><circle cx="387.2" cy="461.2" r="2.45"/><circle cx="389.2" cy="464.1" r="2.45"/><circle cx="391.4" cy="467.1" r="2.45"/><circle cx="395.9" cy="468.2" r="2.45"/><circle cx="399.6" cy="464.9" r="2.45"/><circle cx="400.6" cy="461.6" r="2.45"/><circle cx="389.9" cy="473.1" r="2.45"/><circle cx="398.5" cy="479.8" r="2.45"/><circle cx="385.7" cy="489.9" r="2.45"/><circle cx="389.2" cy="492.9" r="2.45"/><circle cx="392.1" cy="496.9" r="2.45"/><circle cx="395.9" cy="498.8" r="2.45"/><circle cx="398.8" cy="493.2" r="2.45"/><circle cx="399.6" cy="495.4" r="2.45"/><circle cx="403.0" cy="488.7" r="2.45"/><circle cx="394.1" cy="518.2" r="2.45"/></g>
<g fill="#e1870b"><circle cx="425.6" cy="403.0" r="2.45"/><circle cx="421.2" cy="417.1" r="2.45"/><circle cx="422.6" cy="418.9" r="2.45"/><circle cx="428.3" cy="419.3" r="2.45"/><circle cx="430.1" cy="418.5" r="2.45"/><circle cx="419.4" cy="422.3" r="2.45"/><circle cx="434.8" cy="425.9" r="2.45"/><circle cx="425.6" cy="427.8" r="2.45"/><circle cx="432.3" cy="431.8" r="2.45"/><circle cx="419.4" cy="433.0" r="2.45"/><circle cx="425.6" cy="437.2" r="2.45"/><circle cx="430.1" cy="443.5" r="2.45"/><circle cx="421.5" cy="447.6" r="2.45"/><circle cx="421.2" cy="477.2" r="2.45"/><circle cx="429.8" cy="478.3" r="2.45"/><circle cx="425.6" cy="487.5" r="2.45"/></g>
<g fill="#1d3f82"><circle cx="453.3" cy="402.4" r="2.45"/><circle cx="455.0" cy="405.9" r="2.45"/><circle cx="462.0" cy="403.8" r="2.45"/><circle cx="460.6" cy="409.4" r="2.45"/><circle cx="450.8" cy="413.6" r="2.45"/><circle cx="454.3" cy="417.1" r="2.45"/><circle cx="457.8" cy="418.5" r="2.45"/><circle cx="461.3" cy="418.5" r="2.45"/><circle cx="464.8" cy="415.0" r="2.45"/><circle cx="464.8" cy="421.7" r="2.45"/><circle cx="450.8" cy="425.5" r="2.45"/><circle cx="454.3" cy="427.3" r="2.45"/><circle cx="457.8" cy="427.6" r="2.45"/><circle cx="461.3" cy="426.5" r="2.45"/><circle cx="450.1" cy="432.5" r="2.45"/><circle cx="453.6" cy="433.2" r="2.45"/><circle cx="464.1" cy="432.1" r="2.45"/><circle cx="466.9" cy="433.2" r="2.45"/><circle cx="451.5" cy="436.7" r="2.45"/><circle cx="455.0" cy="438.1" r="2.45"/><circle cx="460.6" cy="438.1" r="2.45"/><circle cx="464.1" cy="436.7" r="2.45"/><circle cx="450.1" cy="441.6" r="2.45"/><circle cx="454.3" cy="442.3" r="2.45"/><circle cx="458.5" cy="441.6" r="2.45"/><circle cx="462.7" cy="441.6" r="2.45"/><circle cx="465.5" cy="443.0" r="2.45"/><circle cx="459.2" cy="447.9" r="2.45"/><circle cx="450.7" cy="453.0" r="2.45"/><circle cx="454.4" cy="455.7" r="2.45"/><circle cx="458.1" cy="456.7" r="2.45"/><circle cx="461.8" cy="455.2" r="2.45"/><circle cx="464.8" cy="453.3" r="2.45"/><circle cx="451.4" cy="461.2" r="2.45"/><circle cx="453.6" cy="464.6" r="2.45"/><circle cx="456.6" cy="467.6" r="2.45"/><circle cx="459.6" cy="467.6" r="2.45"/><circle cx="462.6" cy="464.6" r="2.45"/><circle cx="464.5" cy="461.6" r="2.45"/><circle cx="451.4" cy="477.2" r="2.45"/><circle cx="458.1" cy="479.8" r="2.45"/><circle cx="464.5" cy="478.3" r="2.45"/><circle cx="451.4" cy="488.7" r="2.45"/><circle cx="458.1" cy="489.9" r="2.45"/><circle cx="464.5" cy="487.2" r="2.45"/><circle cx="452.6" cy="492.4" r="2.45"/><circle cx="452.9" cy="494.6" r="2.45"/><circle cx="455.9" cy="498.8" r="2.45"/><circle cx="460.0" cy="496.9" r="2.45"/><circle cx="463.3" cy="493.2" r="2.45"/></g>
<g fill="#e1870b"><circle cx="493.9" cy="418.1" r="2.45"/><circle cx="485.5" cy="421.7" r="2.45"/><circle cx="496.3" cy="428.0" r="2.45"/><circle cx="483.4" cy="431.5" r="2.45"/><circle cx="489.7" cy="431.5" r="2.45"/><circle cx="483.4" cy="448.3" r="2.45"/><circle cx="489.7" cy="448.3" r="2.45"/><circle cx="496.3" cy="448.3" r="2.45"/><circle cx="483.4" cy="468.2" r="2.45"/><circle cx="496.4" cy="467.4" r="2.45"/><circle cx="490.1" cy="473.1" r="2.45"/><circle cx="490.1" cy="518.2" r="2.45"/></g>
<line x1="102.70" y1="441.70" x2="112.90" y2="441.70" stroke="#111" stroke-width="1.4" stroke-linecap="butt"/>
<line x1="102.70" y1="448.10" x2="112.90" y2="448.10" stroke="#111" stroke-width="1.4" stroke-linecap="butt"/>
<line x1="107.80" y1="441.70" x2="107.80" y2="448.10" stroke="#111" stroke-width="1.1" stroke-linecap="butt"/>
<line x1="134.20" y1="441.60" x2="145.00" y2="441.60" stroke="#111" stroke-width="1.4" stroke-linecap="butt"/>
<line x1="134.20" y1="448.20" x2="145.00" y2="448.20" stroke="#111" stroke-width="1.4" stroke-linecap="butt"/>
<line x1="139.60" y1="441.60" x2="139.60" y2="448.20" stroke="#111" stroke-width="1.1" stroke-linecap="butt"/>
<line x1="166.70" y1="447.90" x2="176.90" y2="447.90" stroke="#111" stroke-width="1.4" stroke-linecap="butt"/>
<line x1="166.70" y1="457.70" x2="176.90" y2="457.70" stroke="#111" stroke-width="1.4" stroke-linecap="butt"/>
<line x1="171.80" y1="447.90" x2="171.80" y2="457.70" stroke="#111" stroke-width="1.1" stroke-linecap="butt"/>
<line x1="198.90" y1="444.70" x2="208.30" y2="444.70" stroke="#111" stroke-width="1.4" stroke-linecap="butt"/>
<line x1="198.90" y1="451.70" x2="208.30" y2="451.70" stroke="#111" stroke-width="1.4" stroke-linecap="butt"/>
<line x1="203.60" y1="444.70" x2="203.60" y2="451.70" stroke="#111" stroke-width="1.1" stroke-linecap="butt"/>
<line x1="230.10" y1="444.10" x2="240.50" y2="444.10" stroke="#111" stroke-width="1.4" stroke-linecap="butt"/>
<line x1="230.10" y1="453.50" x2="240.50" y2="453.50" stroke="#111" stroke-width="1.4" stroke-linecap="butt"/>
<line x1="235.30" y1="444.10" x2="235.30" y2="453.50" stroke="#111" stroke-width="1.1" stroke-linecap="butt"/>
<line x1="262.80" y1="443.70" x2="272.00" y2="443.70" stroke="#111" stroke-width="1.4" stroke-linecap="butt"/>
<line x1="262.80" y1="449.30" x2="272.00" y2="449.30" stroke="#111" stroke-width="1.4" stroke-linecap="butt"/>
<line x1="267.40" y1="443.70" x2="267.40" y2="449.30" stroke="#111" stroke-width="1.1" stroke-linecap="butt"/>
<line x1="294.40" y1="446.10" x2="304.20" y2="446.10" stroke="#111" stroke-width="1.4" stroke-linecap="butt"/>
<line x1="294.40" y1="459.60" x2="304.20" y2="459.60" stroke="#111" stroke-width="1.4" stroke-linecap="butt"/>
<line x1="299.30" y1="446.10" x2="299.30" y2="459.60" stroke="#111" stroke-width="1.1" stroke-linecap="butt"/>
<line x1="326.80" y1="445.80" x2="336.00" y2="445.80" stroke="#111" stroke-width="1.4" stroke-linecap="butt"/>
<line x1="326.80" y1="452.50" x2="336.00" y2="452.50" stroke="#111" stroke-width="1.4" stroke-linecap="butt"/>
<line x1="331.40" y1="445.80" x2="331.40" y2="452.50" stroke="#111" stroke-width="1.1" stroke-linecap="butt"/>
<line x1="357.70" y1="436.00" x2="367.90" y2="436.00" stroke="#111" stroke-width="1.4" stroke-linecap="butt"/>
<line x1="357.70" y1="454.20" x2="367.90" y2="454.20" stroke="#111" stroke-width="1.4" stroke-linecap="butt"/>
<line x1="362.80" y1="436.00" x2="362.80" y2="454.20" stroke="#111" stroke-width="1.1" stroke-linecap="butt"/>
<line x1="390.60" y1="447.90" x2="400.00" y2="447.90" stroke="#111" stroke-width="1.4" stroke-linecap="butt"/>
<line x1="390.60" y1="454.60" x2="400.00" y2="454.60" stroke="#111" stroke-width="1.4" stroke-linecap="butt"/>
<line x1="395.30" y1="447.90" x2="395.30" y2="454.60" stroke="#111" stroke-width="1.1" stroke-linecap="butt"/>
<line x1="422.30" y1="431.50" x2="432.30" y2="431.50" stroke="#111" stroke-width="1.4" stroke-linecap="butt"/>
<line x1="422.30" y1="443.20" x2="432.30" y2="443.20" stroke="#111" stroke-width="1.4" stroke-linecap="butt"/>
<line x1="427.30" y1="431.50" x2="427.30" y2="443.20" stroke="#111" stroke-width="1.1" stroke-linecap="butt"/>
<line x1="452.90" y1="445.10" x2="462.10" y2="445.10" stroke="#111" stroke-width="1.4" stroke-linecap="butt"/>
<line x1="452.90" y1="451.40" x2="462.10" y2="451.40" stroke="#111" stroke-width="1.4" stroke-linecap="butt"/>
<line x1="457.50" y1="445.10" x2="457.50" y2="451.40" stroke="#111" stroke-width="1.1" stroke-linecap="butt"/>
<line x1="485.10" y1="442.30" x2="495.50" y2="442.30" stroke="#111" stroke-width="1.4" stroke-linecap="butt"/>
<line x1="485.10" y1="459.10" x2="495.50" y2="459.10" stroke="#111" stroke-width="1.4" stroke-linecap="butt"/>
<line x1="490.30" y1="442.30" x2="490.30" y2="459.10" stroke="#111" stroke-width="1.1" stroke-linecap="butt"/>
<line x1="395.60" y1="390.90" x2="430.40" y2="390.90" stroke="#505050" stroke-width="1.6" stroke-linecap="butt"/>
<polygon points="413.00,384.90 413.56,385.98 414.76,386.18 413.90,387.04 414.09,388.25 413.00,387.70 411.91,388.25 412.10,387.04 411.24,386.18 412.44,385.98" fill="#1a1a1a"/>
<text x="69.80" y="545.40" font-size="8.9" textLength="12.1" lengthAdjust="spacingAndGlyphs" stroke="#1a1a1a" stroke-width="0.12">WT</text>
<text x="100.60" y="545.40" font-size="8.9" textLength="15.4" lengthAdjust="spacingAndGlyphs" stroke="#1a1a1a" stroke-width="0.12">Mut</text>
<line x1="77.10" y1="550.30" x2="111.70" y2="550.30" stroke="#333" stroke-width="1.2" stroke-linecap="butt"/>
<text x="85.20" y="560.80" font-size="9.0" textLength="19.2" lengthAdjust="spacingAndGlyphs" font-style="italic" stroke="#1a1a1a" stroke-width="0.12">TET2</text>
<text x="133.50" y="545.40" font-size="8.9" textLength="12.9" lengthAdjust="spacingAndGlyphs" stroke="#1a1a1a" stroke-width="0.12">WT</text>
<text x="164.40" y="545.40" font-size="8.9" textLength="15.4" lengthAdjust="spacingAndGlyphs" stroke="#1a1a1a" stroke-width="0.12">Mut</text>
<line x1="140.20" y1="550.30" x2="175.20" y2="550.30" stroke="#333" stroke-width="1.2" stroke-linecap="butt"/>
<text x="146.10" y="560.80" font-size="9.0" textLength="23.7" lengthAdjust="spacingAndGlyphs" font-style="italic" stroke="#1a1a1a" stroke-width="0.12">SRSF2</text>
<text x="197.30" y="545.40" font-size="8.9" textLength="12.9" lengthAdjust="spacingAndGlyphs" stroke="#1a1a1a" stroke-width="0.12">WT</text>
<text x="227.70" y="545.40" font-size="8.9" textLength="15.6" lengthAdjust="spacingAndGlyphs" stroke="#1a1a1a" stroke-width="0.12">Mut</text>
<line x1="204.00" y1="550.30" x2="238.50" y2="550.30" stroke="#333" stroke-width="1.2" stroke-linecap="butt"/>
<text x="209.70" y="560.80" font-size="9.0" textLength="24.7" lengthAdjust="spacingAndGlyphs" font-style="italic" stroke="#1a1a1a" stroke-width="0.12">ASXL1</text>
<text x="261.30" y="545.40" font-size="8.9" textLength="12.4" lengthAdjust="spacingAndGlyphs" stroke="#1a1a1a" stroke-width="0.12">WT</text>
<text x="291.70" y="545.40" font-size="8.9" textLength="15.4" lengthAdjust="spacingAndGlyphs" stroke="#1a1a1a" stroke-width="0.12">Mut</text>
<line x1="268.30" y1="550.30" x2="302.50" y2="550.30" stroke="#333" stroke-width="1.2" stroke-linecap="butt"/>
<text x="274.20" y="560.80" font-size="9.0" textLength="22.1" lengthAdjust="spacingAndGlyphs" font-style="italic" stroke="#1a1a1a" stroke-width="0.12">AML1</text>
<text x="324.90" y="545.40" font-size="8.9" textLength="12.6" lengthAdjust="spacingAndGlyphs" stroke="#1a1a1a" stroke-width="0.12">WT</text>
<text x="355.50" y="545.40" font-size="8.9" textLength="15.1" lengthAdjust="spacingAndGlyphs" stroke="#1a1a1a" stroke-width="0.12">Mut</text>
<line x1="331.60" y1="550.30" x2="366.30" y2="550.30" stroke="#333" stroke-width="1.2" stroke-linecap="butt"/>
<text x="342.10" y="560.80" font-size="9.0" textLength="14.3" lengthAdjust="spacingAndGlyphs" font-style="italic" stroke="#1a1a1a" stroke-width="0.12">CBL</text>
<text x="388.60" y="545.40" font-size="8.9" textLength="12.9" lengthAdjust="spacingAndGlyphs" stroke="#1a1a1a" stroke-width="0.12">WT</text>
<text x="419.00" y="545.40" font-size="8.9" textLength="15.4" lengthAdjust="spacingAndGlyphs" stroke="#1a1a1a" stroke-width="0.12">Mut</text>
<line x1="395.60" y1="550.30" x2="430.60" y2="550.30" stroke="#333" stroke-width="1.2" stroke-linecap="butt"/>
<text x="402.10" y="560.80" font-size="9.0" textLength="22.3" lengthAdjust="spacingAndGlyphs" font-style="italic" stroke="#1a1a1a" stroke-width="0.12">NRAS</text>
<text x="452.70" y="545.40" font-size="8.9" textLength="12.9" lengthAdjust="spacingAndGlyphs" stroke="#1a1a1a" stroke-width="0.12">WT</text>
<text x="482.90" y="545.40" font-size="8.9" textLength="15.6" lengthAdjust="spacingAndGlyphs" stroke="#1a1a1a" stroke-width="0.12">Mut</text>
<line x1="459.40" y1="550.30" x2="493.60" y2="550.30" stroke="#333" stroke-width="1.2" stroke-linecap="butt"/>
<text x="466.20" y="560.80" font-size="9.0" textLength="21.0" lengthAdjust="spacingAndGlyphs" font-style="italic" stroke="#1a1a1a" stroke-width="0.12">KRAS</text>
</svg>
</body></html>
